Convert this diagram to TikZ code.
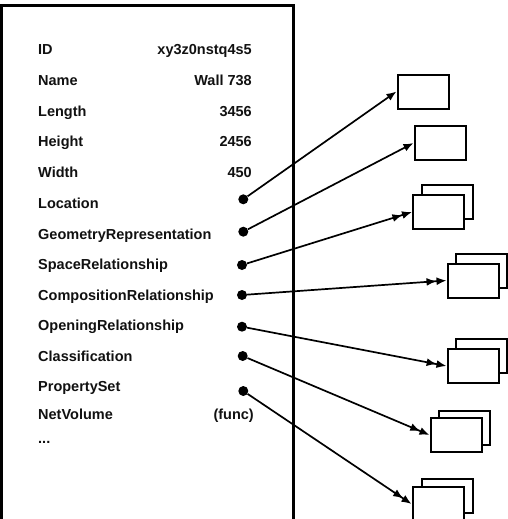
\documentclass[tikz,border=0pt]{standalone}
\usepackage{fontspec}
\setmainfont{Liberation Sans}
\usetikzlibrary{arrows.meta}
\definecolor{txt}{HTML}{111111}
\begin{document}
\begin{tikzpicture}[x=1pt,y=-1pt,
  lbl/.style={anchor=base west, inner sep=0pt, font=\fontsize{14.5}{16}\selectfont\bfseries, text=txt},
  val/.style={anchor=base east, inner sep=0pt, font=\fontsize{14.5}{16}\selectfont\bfseries, text=txt},
  dotnode/.style={circle, fill=black, inner sep=0pt, minimum size=10pt},
  tbox/.style={draw=black, line width=2pt, fill=white, minimum width=51pt, minimum height=34pt, inner sep=0pt},
  sarr/.style={line width=1.7pt, -{Latex[length=10pt,width=8pt]}},
  darr/.style={line width=1.7pt, -{Latex[length=10pt,width=8pt] Latex[length=10pt,width=8pt]}}
]
\useasboundingbox (0,0) rectangle (508,519);
\clip (0,0) rectangle (508,519);
\fill[white] (0,0) rectangle (508,519);

% main object box (open at the bottom)
\draw[line width=2.6pt] (1.2,530) -- (1.2,5.5) -- (293.5,5.5) -- (293.5,530);

% attribute labels
\node[lbl] (lID)   at (38,55)    {ID};
\node[lbl] (lName) at (38,85.6)  {Name};
\node[lbl] (lLen)  at (38,116.2) {Length};
\node[lbl] (lHei)  at (38,146.5) {Height};
\node[lbl] (lWid)  at (38,177)   {Width};
\node[lbl] (lLoc)  at (38,208)   {Location};
\node[lbl] (lGeo)  at (38,239)   {GeometryRepresentation};
\node[lbl] (lSpa)  at (38,269.5) {SpaceRelationship};
\node[lbl] (lCom)  at (38,300)   {CompositionRelationship};
\node[lbl] (lOpe)  at (38,330.7) {OpeningRelationship};
\node[lbl] (lCla)  at (38,361)   {Classification};
\node[lbl] (lPro)  at (38,391.7) {PropertySet};
\node[lbl] (lNet)  at (38,419)   {NetVolume};
\node[lbl] (lDot)  at (38,443)   {...};

% values
\node[val] (vID)   at (252,55)    {xy3z0nstq4s5};
\node[val] (vName) at (252,85.6)  {Wall 738};
\node[val] (vLen)  at (252,116.2) {3456};
\node[val] (vHei)  at (252,146.5) {2456};
\node[val] (vWid)  at (252,177)   {450};
\node[val] (vNet)  at (254,419)   {(func)};

% reference dots
\node[dotnode] (d1) at (243.3,199.3) {};
\node[dotnode] (d2) at (243.3,231.7) {};
\node[dotnode] (d3) at (242,265)   {};
\node[dotnode] (d4) at (242,295)   {};
\node[dotnode] (d5) at (242,326.7) {};
\node[dotnode] (d6) at (242.7,356) {};
\node[dotnode] (d7) at (243.3,391) {};

% target objects
\node[tbox] (b1) at (423,91.5) {};
\node[tbox] (b2) at (440,143) {};
\node[tbox] (b3b) at (447,201.5) {};
\node[tbox] (b3) at (438.5,212) {};
\node[tbox] (b4b) at (481,270.5) {};
\node[tbox] (b4) at (473,280.5) {};
\node[tbox] (b5b) at (481,356) {};
\node[tbox] (b5) at (473,366) {};
\node[tbox] (b6b) at (464.5,428.3) {};
\node[tbox] (b6) at (456,435) {};
\node[tbox] (b7b) at (447,496) {};
\node[tbox] (b7) at (438,504) {};

% connectors
\draw[sarr] (d1) -- (b1.west);
\draw[sarr] (d2) -- (b2.west);
\draw[darr] (d3) -- (b3.west);
\draw[darr] (d4) -- (b4.west);
\draw[darr] (d5) -- (b5.west);
\draw[darr] (d6) -- (b6.west);
\draw[darr] (d7) -- (b7.west);
\end{tikzpicture}
\end{document}
